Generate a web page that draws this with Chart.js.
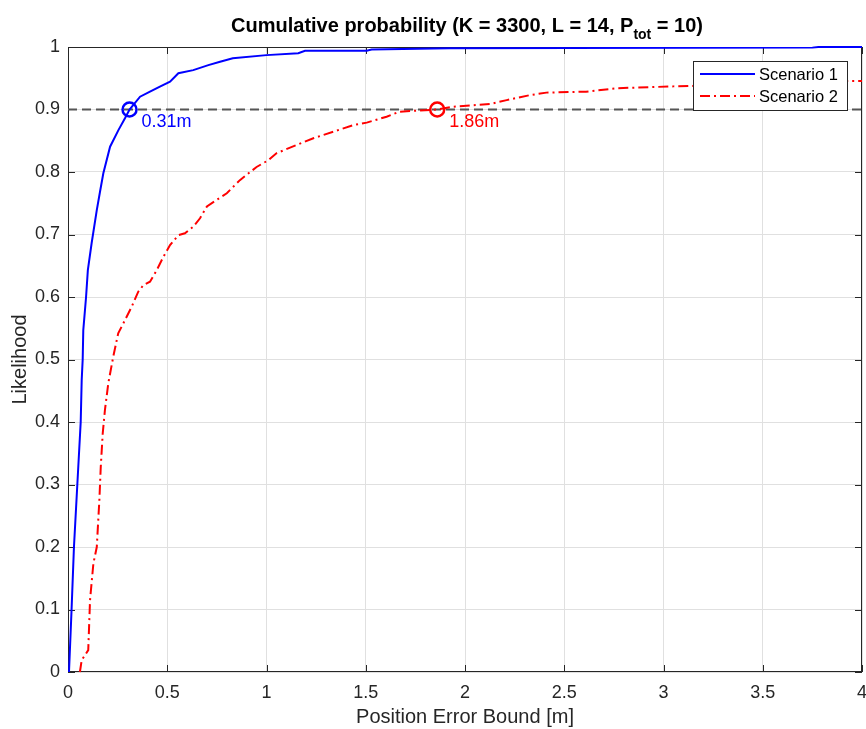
<!DOCTYPE html>
<html lang="en">
<head>
<meta charset="UTF-8">
<title>Cumulative probability</title>
<script src="https://cdn.jsdelivr.net/npm/chart.js@4"></script>
<style>
  body { margin: 0; background: #fff; }
  #wrap { width: 866px; height: 729px; position: relative; }
</style>
</head>
<body>
<div id="wrap"><canvas id="cdfChart"></canvas></div>
<script>
// Scenario 1 (blue, solid)
const s1X = [0.005, 0.018, 0.030, 0.047, 0.064, 0.069, 0.074, 0.077, 0.091, 0.100, 0.119, 0.145, 0.161, 0.178, 0.212, 0.254, 0.287, 0.31, 0.363, 0.413, 0.463, 0.514, 0.556, 0.631, 0.707, 0.766, 0.83, 1.0, 1.16, 1.194, 1.505, 1.53, 1.92, 3.75, 3.78, 4.0];
const s1Y = [0, 0.1, 0.2, 0.3, 0.4, 0.467, 0.5, 0.547, 0.6, 0.643, 0.686, 0.739, 0.768, 0.798, 0.8405, 0.867, 0.886, 0.9, 0.9205, 0.9285, 0.9365, 0.9445, 0.958, 0.963, 0.971, 0.9765, 0.982, 0.987, 0.99, 0.994, 0.994, 0.996, 0.998, 0.999, 1.0, 1.0];

// Scenario 2 (red, dash-dot)
const s2X = [0.06, 0.069, 0.102, 0.111, 0.128, 0.145, 0.158, 0.165, 0.175, 0.186, 0.203, 0.228, 0.253, 0.279, 0.321, 0.354, 0.38, 0.413, 0.447, 0.48, 0.514, 0.556, 0.589, 0.631, 0.665, 0.70, 0.80, 0.866, 0.95, 1.01, 1.05, 1.15, 1.236, 1.336, 1.437, 1.505, 1.605, 1.67, 1.86, 1.94, 2.126, 2.21, 2.327, 2.41, 2.61, 2.764, 3.05, 3.3, 3.6, 3.9, 4.0];
const s2Y = [0, 0.019, 0.035, 0.115, 0.174, 0.2, 0.275, 0.328, 0.382, 0.419, 0.462, 0.5045, 0.542, 0.558, 0.5845, 0.6085, 0.619, 0.6245, 0.643, 0.664, 0.683, 0.699, 0.702, 0.7125, 0.726, 0.745, 0.766, 0.787, 0.808, 0.819, 0.83, 0.843, 0.854, 0.8645, 0.875, 0.879, 0.8885, 0.8965, 0.9, 0.9045, 0.9088, 0.915, 0.923, 0.927, 0.9285, 0.934, 0.937, 0.939, 0.943, 0.9456, 0.9456];

// 90% level and where each curve crosses it
const levelY = 0.9;
const markX = [0.31, 1.86];
const markLabels = ['0.31m', '1.86m'];
const seriesNames = ['Scenario 1', 'Scenario 2'];

const FONT = "'Liberation Sans', Arial, Helvetica, sans-serif";
Chart.defaults.font.family = FONT;
Chart.defaults.color = '#262626';

function toPoints(xs, ys) {
    return xs.map((x, i) => ({ x: x, y: ys[i] }));
}

// frame box + inward tick marks, matlab style
const frameTicks = {
    id: 'frameTicks',
    beforeDatasetsDraw(chart) {
        const { ctx, chartArea: a, scales } = chart;
        ctx.save();
        ctx.strokeStyle = '#262626';
        ctx.lineWidth = 1;
        ctx.beginPath();
        scales.x.ticks.forEach(t => {
            const px = Math.round(scales.x.getPixelForValue(t.value)) + 0.5;
            ctx.moveTo(px, a.bottom); ctx.lineTo(px, a.bottom - 7);
            ctx.moveTo(px, a.top); ctx.lineTo(px, a.top + 7);
        });
        scales.y.ticks.forEach(t => {
            const py = Math.round(scales.y.getPixelForValue(t.value)) + 0.5;
            ctx.moveTo(a.left, py); ctx.lineTo(a.left + 7, py);
            ctx.moveTo(a.right, py); ctx.lineTo(a.right - 7, py);
        });
        ctx.stroke();
        ctx.strokeRect(a.left + 0.5, a.top + 0.5, a.right - a.left - 1, a.bottom - a.top - 1);
        ctx.restore();
    }
};

// text next to the 90% markers + boxed legend
const overlays = {
    id: 'overlays',
    afterDatasetsDraw(chart) {
        const { ctx, chartArea: a, scales } = chart;
        ctx.save();
        ctx.font = '18px ' + FONT;
        ctx.textBaseline = 'middle';
        ctx.textAlign = 'left';
        const cols = ['#0000ff', '#ff0000'];
        markX.forEach((mx, i) => {
            ctx.fillStyle = cols[i];
            ctx.fillText(markLabels[i], scales.x.getPixelForValue(mx) + 12, scales.y.getPixelForValue(levelY) + 13);
        });

        const items = chart.data.datasets.filter(d => d.inLegend);
        const w = 154, h = 49;
        const lx = a.right - 15 - w, ly = a.top + 14;
        ctx.fillStyle = '#ffffff';
        ctx.fillRect(lx, ly, w, h);
        ctx.strokeStyle = '#262626';
        ctx.lineWidth = 1;
        ctx.strokeRect(lx + 0.5, ly + 0.5, w, h);
        ctx.font = '16.5px ' + FONT;
        items.forEach((d, i) => {
            const ry = ly + 13 + i * 22;
            ctx.strokeStyle = d.borderColor;
            ctx.lineWidth = d.borderWidth;
            ctx.setLineDash(d.borderDash || []);
            ctx.beginPath();
            ctx.moveTo(lx + 7, ry); ctx.lineTo(lx + 62, ry);
            ctx.stroke();
            ctx.setLineDash([]);
            ctx.fillStyle = '#000000';
            ctx.fillText(d.label, lx + 66, ry + 1);
        });
        ctx.restore();
    }
};

// title with subscript
const subTitle = {
    id: 'subTitle',
    afterDraw(chart) {
        const { ctx, chartArea: a } = chart;
        const part1 = 'Cumulative probability (K = 3300, L = 14, P';
        const sub = 'tot';
        const part2 = ' = 10)';
        ctx.save();
        ctx.fillStyle = '#000000';
        ctx.textBaseline = 'alphabetic';
        ctx.textAlign = 'left';
        const big = 'bold 20px ' + FONT, small = 'bold 14px ' + FONT;
        ctx.font = big;
        const w1 = ctx.measureText(part1).width, w3 = ctx.measureText(part2).width;
        ctx.font = small;
        const w2 = ctx.measureText(sub).width;
        let x = (a.left + a.right) / 2 - (w1 + w2 + w3) / 2 + 2;
        ctx.font = big;
        ctx.fillText(part1, x, 32);
        x += w1;
        ctx.font = small;
        ctx.fillText(sub, x, 39);
        x += w2;
        ctx.font = big;
        ctx.fillText(part2, x, 32);
        ctx.restore();
    }
};

const lineClip = { left: 1, top: 2, right: 0, bottom: 1 };

const ctx = document.getElementById('cdfChart').getContext('2d');
const cdfChart = new Chart(ctx, {
    type: 'line',
    data: {
        datasets: [
            {
                label: seriesNames[0],
                data: toPoints(s1X, s1Y),
                borderColor: '#0000ff',
                borderWidth: 2,
                pointRadius: 0,
                clip: lineClip,
                inLegend: true
            },
            {
                label: seriesNames[1],
                data: toPoints(s2X, s2Y),
                borderColor: '#ff0000',
                borderWidth: 2,
                borderDash: [10, 4, 2, 4],
                pointRadius: 0,
                clip: lineClip,
                inLegend: true
            },
            {
                label: 'level',
                data: [{ x: 0, y: levelY }, { x: 4, y: levelY }],
                borderColor: '#555555',
                borderWidth: 2,
                borderDash: [9, 5],
                pointRadius: 0,
                clip: lineClip
            },
            {
                label: 'mark1',
                data: [{ x: markX[0], y: levelY }],
                showLine: false,
                pointRadius: 7,
                pointBorderWidth: 2.5,
                pointBorderColor: '#0000ff',
                pointBackgroundColor: 'rgba(0,0,0,0)'
            },
            {
                label: 'mark2',
                data: [{ x: markX[1], y: levelY }],
                showLine: false,
                pointRadius: 7,
                pointBorderWidth: 2.5,
                pointBorderColor: '#ff0000',
                pointBackgroundColor: 'rgba(0,0,0,0)'
            }
        ]
    },
    options: {
        responsive: true,
        maintainAspectRatio: false,
        animation: false,
        layout: { autoPadding: false, padding: { top: 47, right: 4, left: 0, bottom: 0 } },
        plugins: {
            legend: { display: false },
            tooltip: { enabled: false }
        },
        scales: {
            x: {
                type: 'linear',
                min: 0,
                max: 4,
                ticks: {
                    stepSize: 0.5,
                    padding: 10,
                    maxRotation: 0,
                    font: { size: 18 },
                    color: '#262626',
                    callback: v => String(+v.toFixed(1))
                },
                grid: { color: '#e0e0e0', drawTicks: false },
                border: { display: false },
                title: {
                    display: true,
                    text: 'Position Error Bound [m]',
                    font: { size: 20 },
                    color: '#262626',
                    padding: { top: 0, bottom: 0 }
                },
                afterFit: s => { s.height = 57; s.paddingLeft = 0; s.paddingRight = 0; }
            },
            y: {
                min: 0,
                max: 1,
                ticks: {
                    stepSize: 0.1,
                    padding: 8,
                    font: { size: 18 },
                    color: '#262626',
                    callback: v => String(+v.toFixed(1))
                },
                grid: { color: '#e0e0e0', drawTicks: false },
                border: { display: false },
                title: {
                    display: true,
                    text: 'Likelihood',
                    font: { size: 20 },
                    color: '#262626',
                    padding: { top: 8, bottom: 0 }
                },
                afterFit: s => { s.width = 68; }
            }
        }
    },
    plugins: [frameTicks, overlays, subTitle]
});
</script>
</body>
</html>
